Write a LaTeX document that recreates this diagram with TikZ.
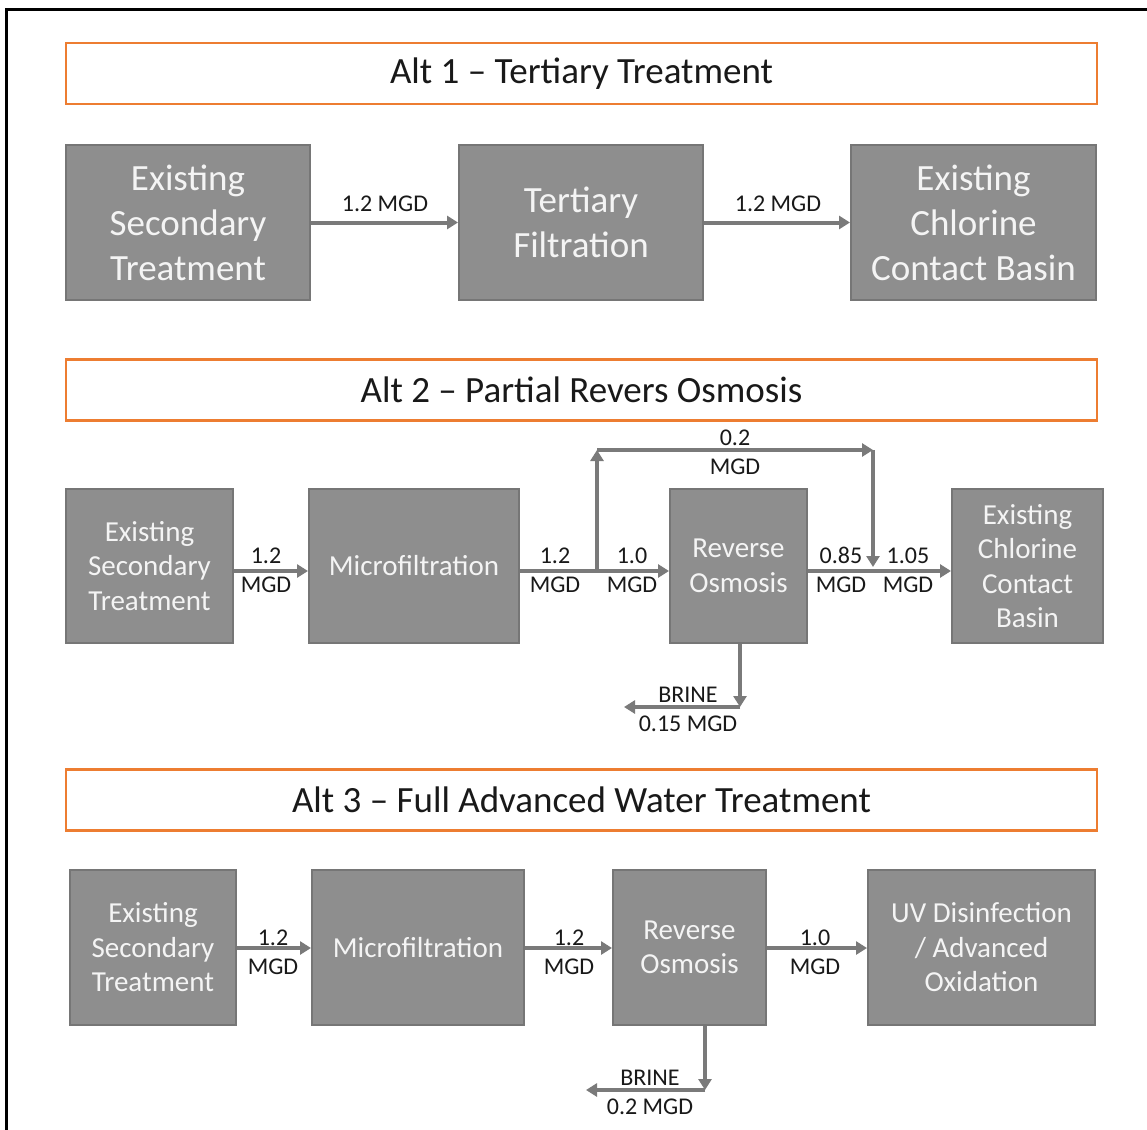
\documentclass[tikz,border=0pt]{standalone}
\usepackage{fontspec}
\setmainfont{Carlito}
\usetikzlibrary{arrows.meta}
\definecolor{hdrorange}{HTML}{ED7D31}
\definecolor{boxgray}{HTML}{8E8E8E}
\definecolor{boxedge}{HTML}{767676}
\definecolor{flowgray}{HTML}{7A7A7A}
\definecolor{boxtext}{HTML}{F4F4F4}
\begin{document}
\begin{tikzpicture}[x=1pt,y=-1pt,
  hdr/.style={draw=hdrorange, line width=2.5pt, fill=white, minimum width=1031pt, minimum height=61pt, inner sep=0pt,
    font=\fontsize{37}{44}\selectfont, text=black!90},
  proc/.style={fill=boxgray, draw=boxedge, line width=2pt, text=boxtext, align=center, inner sep=0pt},
  bigtxt/.style={font=\fontsize{37}{45}\selectfont},
  smalltxt/.style={font=\fontsize{29}{34.5}\selectfont},
  flow/.style={draw=flowgray, line width=4pt, -{Triangle[length=11pt,width=13pt]}},
  lbl/.style={font=\fontsize{24}{29}\selectfont, text=black!90, inner sep=0pt, align=center}
]
\useasboundingbox (0,0) rectangle (1147,1129);
\fill[white] (0,0) rectangle (1147,1129);
\draw[line width=3pt, black] (6,1131) -- (6,10) -- (1149,10);

% ---------- Alt 1 ----------
\node[hdr] (h1) at (581.5,73.5) {Alt 1 – Tertiary Treatment};
\node[proc,bigtxt, minimum width=244pt, minimum height=155pt] (a1) at (188,222.5) {Existing\\Secondary\\Treatment};
\node[proc,bigtxt, minimum width=244pt, minimum height=155pt] (b1) at (581,222.5) {Tertiary\\Filtration};
\node[proc,bigtxt, minimum width=245pt, minimum height=155pt] (c1) at (973.5,222.5) {Existing\\Chlorine\\Contact Basin};
\draw[flow] (a1.east) -- (b1.west);
\draw[flow] (b1.east) -- (c1.west);
\node[lbl] (l11) at (385,204) {1.2 MGD};
\node[lbl] (l12) at (778,204) {1.2 MGD};

% ---------- Alt 2 ----------
\node[hdr] (h2) at (581.5,390) {Alt 2 – Partial Revers Osmosis};
\node[proc,smalltxt, minimum width=167pt, minimum height=154pt] (a2) at (149.5,566) {Existing\\Secondary\\Treatment};
\node[proc,smalltxt, minimum width=210pt, minimum height=154pt] (b2) at (414,566) {Microfiltration};
\node[proc,smalltxt, minimum width=137pt, minimum height=154pt] (c2) at (738.5,566) {Reverse\\Osmosis};
\node[proc,smalltxt, minimum width=151pt, minimum height=154pt] (d2) at (1027.5,566) {Existing\\Chlorine\\Contact\\Basin};
\coordinate (br) at (597,571);
\coordinate (tl) at (597,450);
\coordinate (tr) at (873,450);
\coordinate (mg) at (873,567);
\draw[flow] (a2.east |- br) -- (b2.west |- br);
\draw[flow] (b2.east |- br) -- (c2.west |- br);
\draw[flow] (c2.east |- br) -- (d2.west |- br);
\draw[flow] (br) -- (tl);
\draw[flow] (tl) -- (tr);
\draw[flow] (tr) -- (mg);
\coordinate (bc2) at (740,707);
\coordinate (be2) at (624,707);
\draw[flow] (c2.south -| bc2) -- (bc2);
\draw[flow] (bc2) -- (be2);
\node[lbl] (l21) at (266,570) {1.2\\MGD};
\node[lbl] (l22) at (555,570) {1.2\\MGD};
\node[lbl] (l23) at (632,570) {1.0\\MGD};
\node[lbl] (l24) at (735,452) {0.2\\MGD};
\node[lbl] (l25) at (841,570) {0.85\\MGD};
\node[lbl] (l26) at (908,570) {1.05\\MGD};
\node[lbl] (l27) at (688,709) {BRINE\\0.15 MGD};

% ---------- Alt 3 ----------
\node[hdr] (h3) at (581.5,800) {Alt 3 – Full Advanced Water Treatment};
\node[proc,smalltxt, minimum width=166pt, minimum height=155pt] (a3) at (153,947.5) {Existing\\Secondary\\Treatment};
\node[proc,smalltxt, minimum width=212pt, minimum height=155pt] (b3) at (418,947.5) {Microfiltration};
\node[proc,smalltxt, minimum width=153pt, minimum height=155pt] (c3) at (689.5,947.5) {Reverse\\Osmosis};
\node[proc,smalltxt, minimum width=227pt, minimum height=155pt] (d3) at (981.5,947.5) {UV Disinfection\\/ Advanced\\Oxidation};
\coordinate (m3) at (600,948);
\draw[flow] (a3.east |- m3) -- (b3.west |- m3);
\draw[flow] (b3.east |- m3) -- (c3.west |- m3);
\draw[flow] (c3.east |- m3) -- (d3.west |- m3);
\coordinate (bc3) at (705,1090);
\coordinate (be3) at (586,1090);
\draw[flow] (c3.south -| bc3) -- (bc3);
\draw[flow] (bc3) -- (be3);
\node[lbl] (l31) at (273,952) {1.2\\MGD};
\node[lbl] (l32) at (569,952) {1.2\\MGD};
\node[lbl] (l33) at (815,952) {1.0\\MGD};
\node[lbl] (l34) at (650,1092) {BRINE\\0.2 MGD};
\end{tikzpicture}
\end{document}
